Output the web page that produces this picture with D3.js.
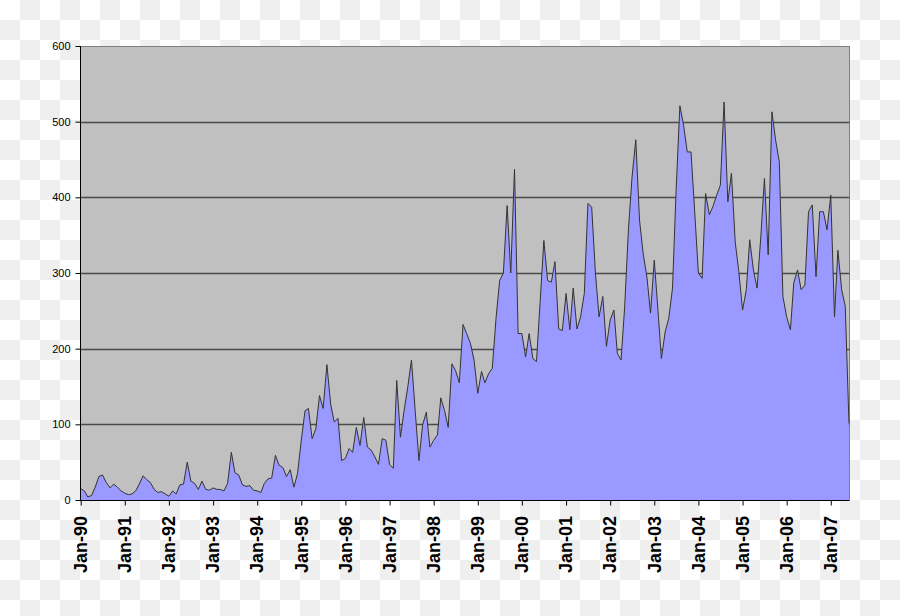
<!DOCTYPE html>
<html>
<head>
<meta charset="utf-8">
<script src="https://cdn.jsdelivr.net/npm/d3@7"></script>
<style>
  html, body { margin: 0; padding: 0; background: #ffffff; }
  svg { display: block; }
</style>
</head>
<body>
<script>
// Monthly values, Jan-1990 .. Jun-2007
const startYear = 1990;
const values = [
  15,12,4,6,17,31,33,23,16,21,17,12,          // 1990
  9,7,8,12,21,32,27,23,14,10,11,8,            // 1991
  5,12,8,20,21,50,25,22,14,25,14,13,          // 1992
  16,14,14,12,22,63,36,33,20,18,19,13,        // 1993
  12,10,22,28,29,59,46,43,31,40,17,35,        // 1994
  79,118,121,81,94,138,121,179,127,103,108,52, // 1995
  55,68,63,96,72,109,70,66,57,47,81,79,       // 1996
  47,42,158,83,118,150,185,118,52,99,116,70,  // 1997
  79,86,135,118,96,180,171,155,232,220,207,185, // 1998
  141,170,155,167,174,240,290,300,389,300,437,220, // 1999
  220,189,220,187,183,264,343,290,288,315,226,224, // 2000
  273,225,280,226,242,273,392,387,300,242,269,203, // 2001
  238,251,194,185,255,357,427,476,370,326,295,247, // 2002
  317,250,187,222,240,280,410,521,495,460,460,383, // 2003
  300,293,405,377,388,403,416,526,394,432,341,302, // 2004
  251,278,344,304,280,348,425,324,513,476,447,269, // 2005
  242,225,287,304,278,284,381,390,295,381,381,357, // 2006
  403,242,330,278,256,101                      // 2007
];
const xTickLabels = ["Jan-90","Jan-91","Jan-92","Jan-93","Jan-94","Jan-95","Jan-96","Jan-97","Jan-98",
                     "Jan-99","Jan-00","Jan-01","Jan-02","Jan-03","Jan-04","Jan-05","Jan-06","Jan-07"];
const yTicks = [0,100,200,300,400,500,600];

(function () {
const data = values.map((v, i) => ({ date: new Date(startYear, i, 1), value: v }));
const tickDates = xTickLabels.map((l, k) => new Date(startYear + k, 0, 1));

const W = 900, H = 616;
const pLeft = 80.5, pRight = 849.5, pTop = 46, pBottom = 500;

const svg = d3.select("body").append("svg").attr("width", W).attr("height", H);

// checkerboard background
const defs = svg.append("defs");
const pat = defs.append("pattern").attr("id", "chk").attr("patternUnits", "userSpaceOnUse")
  .attr("width", 40).attr("height", 40);
pat.append("rect").attr("width", 40).attr("height", 40).attr("fill", "#ffffff");
pat.append("rect").attr("x", 20).attr("y", 0).attr("width", 20).attr("height", 20).attr("fill", "#efefef");
pat.append("rect").attr("x", 0).attr("y", 20).attr("width", 20).attr("height", 20).attr("fill", "#efefef");
svg.append("rect").attr("width", W).attr("height", H).attr("fill", "url(#chk)");

const x = d3.scaleTime()
  .domain([data[0].date, data[data.length - 1].date])
  .range([80.7, 849]);
const y = d3.scaleLinear().domain([0, 600]).range([pBottom, pTop]);

// plot area
svg.append("rect")
  .attr("x", pLeft).attr("y", pTop + 0.5)
  .attr("width", pRight - pLeft).attr("height", pBottom - pTop - 0.5)
  .attr("fill", "#c0c0c0").attr("stroke", "#808080").attr("stroke-width", 1);

// gridlines
svg.append("g").selectAll("line").data(yTicks.filter(t => t > 0 && t < 600)).join("line")
  .attr("x1", pLeft).attr("x2", pRight)
  .attr("y1", d => Math.round(y(d)) + 0.5).attr("y2", d => Math.round(y(d)) + 0.5)
  .attr("stroke", "#4a4a4a").attr("stroke-width", 1.4);

// area
const area = d3.area().x(d => x(d.date)).y0(y(0)).y1(d => y(d.value));
const line = d3.line().x(d => x(d.date)).y(d => y(d.value));
svg.append("path").datum(data).attr("d", area).attr("fill", "#9999ff");
svg.append("path").datum(data).attr("d", line)
  .attr("fill", "none").attr("stroke", "#333333").attr("stroke-width", 1)
  .attr("stroke-linejoin", "round");

// y axis
const yAxis = d3.axisLeft(y).tickValues(yTicks).tickSize(5).tickPadding(5).tickFormat(d3.format("d"));
const gy = svg.append("g").attr("transform", `translate(${pLeft},0)`).call(yAxis);
gy.select(".domain").attr("stroke", "#000").attr("d", `M0,${pTop}V${pBottom + 0.5}`);
gy.selectAll(".tick line").attr("stroke", "#000");
gy.selectAll(".tick text")
  .attr("font-family", "'Liberation Sans', Arial, sans-serif")
  .attr("font-size", 11).attr("fill", "#000");

// x axis
const xAxis = d3.axisBottom(x).tickValues(tickDates).tickSize(5).tickFormat((d, k) => xTickLabels[k]);
const gx = svg.append("g").attr("transform", `translate(0,${pBottom + 0.5})`).call(xAxis);
gx.select(".domain").attr("stroke", "#000").attr("d", `M${pLeft},0H${pRight}`);
gx.selectAll(".tick line").attr("stroke", "#000");
gx.selectAll(".tick text")
  .attr("font-family", "'Liberation Sans', Arial, sans-serif")
  .attr("font-size", 18).attr("font-weight", "bold").attr("fill", "#000")
  .attr("text-anchor", "end")
  .attr("transform", "translate(0,15.5) rotate(-90)")
  .attr("x", 0).attr("y", 0).attr("dy", "0.32em");
})();
</script>
</body>
</html>
